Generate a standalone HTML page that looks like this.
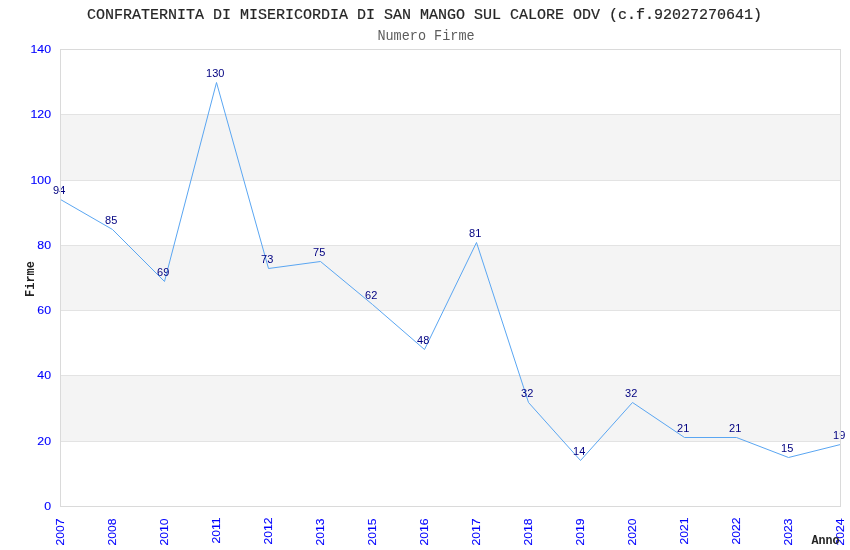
<!DOCTYPE html>
<html><head><meta charset="utf-8"><title>Numero Firme</title>
<style>
html,body{margin:0;padding:0;background:#fff;}
body{width:850px;height:550px;overflow:hidden;}
svg{display:block;will-change:transform;}
text{font-family:"Liberation Sans",sans-serif;}
.mono{font-family:"Liberation Mono",monospace;}
</style></head><body>
<svg width="850" height="550" viewBox="0 0 850 550">
<rect x="0" y="0" width="850" height="550" fill="#ffffff"/>

<rect x="61" y="114" width="779" height="66" fill="#f4f4f4" shape-rendering="crispEdges"/>
<rect x="61" y="245" width="779" height="65" fill="#f4f4f4" shape-rendering="crispEdges"/>
<rect x="61" y="375" width="779" height="66" fill="#f4f4f4" shape-rendering="crispEdges"/>
<rect x="61" y="441" width="779" height="1" fill="#e3e3e3" shape-rendering="crispEdges"/>
<rect x="61" y="375" width="779" height="1" fill="#e3e3e3" shape-rendering="crispEdges"/>
<rect x="61" y="310" width="779" height="1" fill="#e3e3e3" shape-rendering="crispEdges"/>
<rect x="61" y="245" width="779" height="1" fill="#e3e3e3" shape-rendering="crispEdges"/>
<rect x="61" y="180" width="779" height="1" fill="#e3e3e3" shape-rendering="crispEdges"/>
<rect x="61" y="114" width="779" height="1" fill="#e3e3e3" shape-rendering="crispEdges"/>
<text class="mono" x="424.5" y="19" font-size="15" text-anchor="middle" fill="#262626" stroke="#262626" stroke-width="0.2">CONFRATERNITA DI MISERICORDIA DI SAN MANGO SUL CALORE ODV (c.f.92027270641)</text>
<text class="mono" transform="translate(426,40) scale(1,1.1)" font-size="13.5" text-anchor="middle" fill="#5c5c5c">Numero Firme</text>
<text transform="translate(51,510) scale(1.12,1)" font-size="11" text-anchor="end" fill="#0000ff" stroke="#0000ff" stroke-width="0.1">0</text>
<text transform="translate(51,445) scale(1.12,1)" font-size="11" text-anchor="end" fill="#0000ff" stroke="#0000ff" stroke-width="0.1">20</text>
<text transform="translate(51,379) scale(1.12,1)" font-size="11" text-anchor="end" fill="#0000ff" stroke="#0000ff" stroke-width="0.1">40</text>
<text transform="translate(51,314) scale(1.12,1)" font-size="11" text-anchor="end" fill="#0000ff" stroke="#0000ff" stroke-width="0.1">60</text>
<text transform="translate(51,249) scale(1.12,1)" font-size="11" text-anchor="end" fill="#0000ff" stroke="#0000ff" stroke-width="0.1">80</text>
<text transform="translate(51,184) scale(1.12,1)" font-size="11" text-anchor="end" fill="#0000ff" stroke="#0000ff" stroke-width="0.1">100</text>
<text transform="translate(51,118) scale(1.12,1)" font-size="11" text-anchor="end" fill="#0000ff" stroke="#0000ff" stroke-width="0.1">120</text>
<text transform="translate(51,53) scale(1.12,1)" font-size="11" text-anchor="end" fill="#0000ff" stroke="#0000ff" stroke-width="0.1">140</text>
<text transform="translate(64,518.4) rotate(-90) scale(1.105,1)" font-size="11" text-anchor="end" fill="#0000ff" stroke="#0000ff" stroke-width="0.1">2007</text>
<text transform="translate(116,518.4) rotate(-90) scale(1.105,1)" font-size="11" text-anchor="end" fill="#0000ff" stroke="#0000ff" stroke-width="0.1">2008</text>
<text transform="translate(168,518.4) rotate(-90) scale(1.105,1)" font-size="11" text-anchor="end" fill="#0000ff" stroke="#0000ff" stroke-width="0.1">2010</text>
<text transform="translate(220,517.4) rotate(-90) scale(1.105,1)" font-size="11" text-anchor="end" fill="#0000ff" stroke="#0000ff" stroke-width="0.1">2011</text>
<text transform="translate(272,517.4) rotate(-90) scale(1.105,1)" font-size="11" text-anchor="end" fill="#0000ff" stroke="#0000ff" stroke-width="0.1">2012</text>
<text transform="translate(324,518.4) rotate(-90) scale(1.105,1)" font-size="11" text-anchor="end" fill="#0000ff" stroke="#0000ff" stroke-width="0.1">2013</text>
<text transform="translate(376,518.4) rotate(-90) scale(1.105,1)" font-size="11" text-anchor="end" fill="#0000ff" stroke="#0000ff" stroke-width="0.1">2015</text>
<text transform="translate(428,518.4) rotate(-90) scale(1.105,1)" font-size="11" text-anchor="end" fill="#0000ff" stroke="#0000ff" stroke-width="0.1">2016</text>
<text transform="translate(480,518.4) rotate(-90) scale(1.105,1)" font-size="11" text-anchor="end" fill="#0000ff" stroke="#0000ff" stroke-width="0.1">2017</text>
<text transform="translate(532,518.4) rotate(-90) scale(1.105,1)" font-size="11" text-anchor="end" fill="#0000ff" stroke="#0000ff" stroke-width="0.1">2018</text>
<text transform="translate(584,518.4) rotate(-90) scale(1.105,1)" font-size="11" text-anchor="end" fill="#0000ff" stroke="#0000ff" stroke-width="0.1">2019</text>
<text transform="translate(636,518.4) rotate(-90) scale(1.105,1)" font-size="11" text-anchor="end" fill="#0000ff" stroke="#0000ff" stroke-width="0.1">2020</text>
<text transform="translate(688,517.4) rotate(-90) scale(1.105,1)" font-size="11" text-anchor="end" fill="#0000ff" stroke="#0000ff" stroke-width="0.1">2021</text>
<text transform="translate(740,517.4) rotate(-90) scale(1.105,1)" font-size="11" text-anchor="end" fill="#0000ff" stroke="#0000ff" stroke-width="0.1">2022</text>
<text transform="translate(792,518.4) rotate(-90) scale(1.105,1)" font-size="11" text-anchor="end" fill="#0000ff" stroke="#0000ff" stroke-width="0.1">2023</text>
<text transform="translate(844,518.4) rotate(-90) scale(1.105,1)" font-size="11" text-anchor="end" fill="#0000ff" stroke="#0000ff" stroke-width="0.1">2024</text>
<text class="mono" transform="translate(33.5,297) rotate(-90) scale(1,1.05)" font-size="12" font-weight="bold" fill="#222222">Firme</text>
<polyline points="60.5,199.5 112.5,229.5 164.5,281.5 216.5,82.5 268.5,268.5 320.5,261.5 372.5,304.5 424.5,349.5 476.5,242.5 528.5,402.5 580.5,460.5 632.5,402.5 684.5,437.5 736.5,437.5 788.5,457.5 840.5,444.5" fill="none" stroke="#5aa6f2" stroke-width="1" stroke-linejoin="round"/>
<text x="59.2" y="194" font-size="11" text-anchor="middle" fill="#000080">94</text>
<text x="111.2" y="224" font-size="11" text-anchor="middle" fill="#000080">85</text>
<text x="163.2" y="276" font-size="11" text-anchor="middle" fill="#000080">69</text>
<text x="215.2" y="77" font-size="11" text-anchor="middle" fill="#000080">130</text>
<text x="267.2" y="263" font-size="11" text-anchor="middle" fill="#000080">73</text>
<text x="319.2" y="256" font-size="11" text-anchor="middle" fill="#000080">75</text>
<text x="371.2" y="299" font-size="11" text-anchor="middle" fill="#000080">62</text>
<text x="423.2" y="344" font-size="11" text-anchor="middle" fill="#000080">48</text>
<text x="475.2" y="237" font-size="11" text-anchor="middle" fill="#000080">81</text>
<text x="527.2" y="397" font-size="11" text-anchor="middle" fill="#000080">32</text>
<text x="579.2" y="455" font-size="11" text-anchor="middle" fill="#000080">14</text>
<text x="631.2" y="397" font-size="11" text-anchor="middle" fill="#000080">32</text>
<text x="683.2" y="432" font-size="11" text-anchor="middle" fill="#000080">21</text>
<text x="735.2" y="432" font-size="11" text-anchor="middle" fill="#000080">21</text>
<text x="787.2" y="452" font-size="11" text-anchor="middle" fill="#000080">15</text>
<text x="839.2" y="439" font-size="11" text-anchor="middle" fill="#000080">19</text>
<rect x="60.5" y="49.5" width="780" height="457" fill="none" stroke="#dadada" stroke-width="1" shape-rendering="crispEdges"/>
<text class="mono" transform="translate(811.5,544) scale(1,1.06)" font-size="11.7" font-weight="bold" fill="#222222">Anno</text>
</svg></body></html>
